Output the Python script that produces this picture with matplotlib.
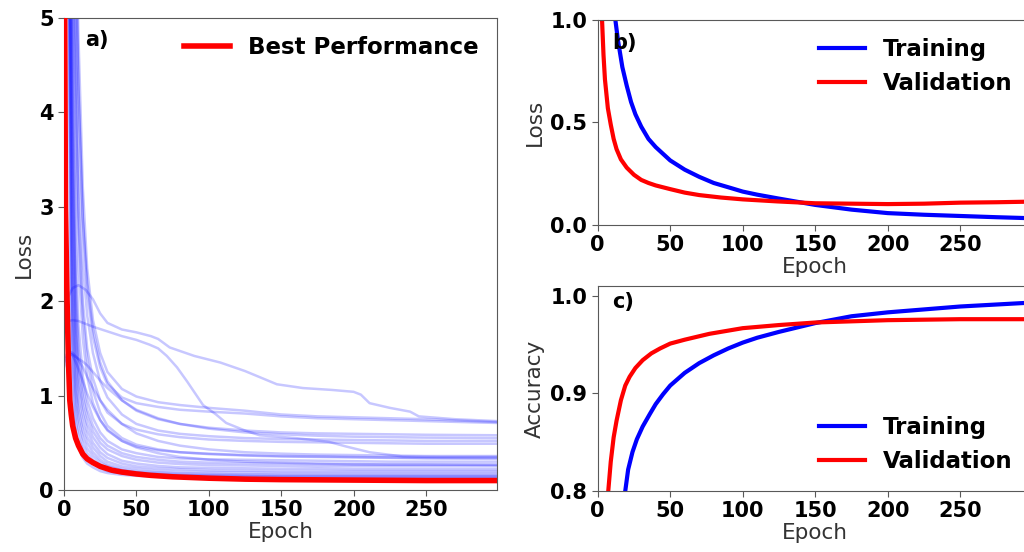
import matplotlib
matplotlib.use("Agg")
import matplotlib.pyplot as plt

# ---------------- data ----------------
# Panel a) : hyper-parameter search runs (loss), shared epoch grid
grid_epochs = [0, 2, 3, 4, 5, 6, 8, 10, 13, 16, 20, 25, 30, 40, 50, 65, 80, 100, 125, 150, 175, 200, 225, 250, 299]

run_b1 = [9, 7, 5.5, 3.0, 1.5, 0.95, 0.6, 0.45, 0.34, 0.28, 0.24, 0.2, 0.18, 0.16, 0.15, 0.14, 0.135, 0.13, 0.125, 0.12, 0.12, 0.12, 0.12, 0.12, 0.12]
run_b2 = [9, 7.5, 6, 4.0, 2.2, 1.3, 0.75, 0.55, 0.42, 0.34, 0.28, 0.23, 0.2, 0.175, 0.16, 0.15, 0.145, 0.14, 0.135, 0.13, 0.13, 0.13, 0.13, 0.13, 0.13]
run_b3 = [9.5, 7.5, 6.2, 4.5, 2.6, 1.6, 0.9, 0.65, 0.48, 0.39, 0.32, 0.26, 0.225, 0.19, 0.175, 0.16, 0.155, 0.15, 0.145, 0.14, 0.14, 0.14, 0.14, 0.14, 0.14]
run_b4 = [10, 8, 6.5, 5.0, 3.0, 1.9, 1.05, 0.75, 0.55, 0.44, 0.36, 0.29, 0.25, 0.21, 0.19, 0.175, 0.165, 0.16, 0.155, 0.15, 0.15, 0.15, 0.15, 0.15, 0.15]
run_b5 = [10, 8.5, 7, 5.5, 3.5, 2.2, 1.2, 0.85, 0.62, 0.5, 0.4, 0.32, 0.27, 0.225, 0.2, 0.185, 0.175, 0.17, 0.165, 0.16, 0.16, 0.16, 0.16, 0.16, 0.16]
run_b6 = [10, 8.5, 7.2, 5.8, 4.0, 2.6, 1.4, 0.95, 0.7, 0.56, 0.45, 0.36, 0.3, 0.25, 0.225, 0.205, 0.195, 0.19, 0.185, 0.18, 0.18, 0.18, 0.18, 0.18, 0.18]
run_b7 = [10, 8.5, 7.5, 6.2, 4.5, 3.0, 1.6, 1.1, 0.8, 0.63, 0.5, 0.4, 0.34, 0.28, 0.25, 0.23, 0.22, 0.21, 0.205, 0.2, 0.2, 0.2, 0.2, 0.2, 0.2]
run_b8 = [10, 9, 7.8, 6.5, 5.0, 3.4, 1.8, 1.2, 0.88, 0.7, 0.56, 0.45, 0.38, 0.31, 0.28, 0.255, 0.24, 0.235, 0.23, 0.225, 0.225, 0.22, 0.22, 0.22, 0.22]
run_b9 = [10, 9, 8, 7, 5.5, 3.8, 2.0, 1.35, 0.98, 0.78, 0.62, 0.5, 0.43, 0.36, 0.32, 0.29, 0.275, 0.265, 0.26, 0.255, 0.25, 0.25, 0.25, 0.25, 0.25]
run_b10 = [10, 9, 8, 7, 6.0, 4.2, 2.3, 1.5, 1.08, 0.85, 0.68, 0.55, 0.47, 0.39, 0.35, 0.32, 0.3, 0.29, 0.285, 0.28, 0.275, 0.27, 0.27, 0.27, 0.27]
run_b11 = [10, 9, 8, 7.2, 6.2, 4.8, 2.7, 1.75, 1.2, 0.95, 0.76, 0.61, 0.52, 0.43, 0.39, 0.35, 0.335, 0.325, 0.32, 0.315, 0.31, 0.305, 0.3, 0.3, 0.3]
run_n1 = [1.35, 1.42, 1.45, 1.46, 1.46, 1.45, 1.42, 1.38, 1.3, 1.2, 1.08, 0.95, 0.85, 0.7, 0.6, 0.52, 0.47, 0.43, 0.4, 0.385, 0.375, 0.37, 0.365, 0.36, 0.36]
run_n2 = [10, 9, 8.5, 7.5, 6.5, 5.5, 3.6, 2.4, 1.6, 1.2, 0.92, 0.74, 0.63, 0.52, 0.46, 0.42, 0.4, 0.385, 0.37, 0.36, 0.355, 0.35, 0.345, 0.34, 0.34]
run_n3 = [10, 9, 8.5, 7.8, 7, 6, 4.2, 2.8, 1.85, 1.38, 1.05, 0.82, 0.68, 0.55, 0.48, 0.43, 0.4, 0.38, 0.365, 0.355, 0.35, 0.345, 0.34, 0.335, 0.33]
run_n4 = [1.3, 1.4, 1.44, 1.45, 1.44, 1.42, 1.36, 1.28, 1.15, 1.02, 0.88, 0.74, 0.64, 0.52, 0.45, 0.39, 0.35, 0.32, 0.3, 0.29, 0.28, 0.275, 0.27, 0.27, 0.265]
run_m1 = [10, 9.5, 9, 8.5, 8, 7.2, 5.8, 4.2, 2.9, 2.2, 1.7, 1.35, 1.15, 0.95, 0.84, 0.75, 0.7, 0.66, 0.63, 0.61, 0.6, 0.595, 0.59, 0.585, 0.58]
run_m2 = [1.4, 1.44, 1.45, 1.45, 1.44, 1.43, 1.41, 1.39, 1.36, 1.32, 1.25, 1.16, 1.08, 0.95, 0.85, 0.76, 0.7, 0.65, 0.61, 0.59, 0.575, 0.565, 0.56, 0.555, 0.55]
run_m3 = [10, 9.5, 9, 8.5, 7.8, 6.8, 5.0, 3.5, 2.4, 1.85, 1.45, 1.15, 0.98, 0.8, 0.7, 0.63, 0.595, 0.57, 0.55, 0.54, 0.535, 0.53, 0.525, 0.52, 0.52]
run_m4 = [10, 9.5, 9, 8.5, 7.5, 6.5, 4.6, 3.0, 2.0, 1.5, 1.18, 0.95, 0.82, 0.7, 0.64, 0.59, 0.56, 0.535, 0.52, 0.51, 0.505, 0.5, 0.495, 0.49, 0.49]
run_ca = [10, 9.5, 9, 8.5, 8, 7.6, 6.4, 4.8, 3.2, 2.35, 1.8, 1.45, 1.25, 1.07, 0.99, 0.93, 0.9, 0.87, 0.84, 0.8, 0.78, 0.77, 0.76, 0.75, 0.72]
run_cb = [10, 9.5, 9, 8.5, 8, 7.3, 5.9, 4.3, 2.85, 2.1, 1.62, 1.3, 1.12, 0.98, 0.92, 0.88, 0.85, 0.83, 0.81, 0.78, 0.76, 0.75, 0.74, 0.73, 0.71]

grid_runs = [run_b1, run_b2, run_b3, run_b4, run_b5, run_b6, run_b7, run_b8, run_b9,
             run_b10, run_b11, run_n1, run_n2, run_n3, run_n4, run_m1, run_m2, run_m3,
             run_m4, run_ca, run_cb]

# two runs with a late plateau / late drop
run_p_epochs = [0, 3, 6, 10, 15, 20, 25, 30, 40, 50, 60, 65, 73, 90, 108, 125, 147, 165, 185, 200, 205, 211, 225, 239, 245, 270, 299]
run_p_loss = [1.9, 2.05, 2.14, 2.17, 2.12, 2.02, 1.87, 1.77, 1.7, 1.67, 1.63, 1.6, 1.51, 1.42, 1.35, 1.26, 1.12, 1.08, 1.06, 1.04, 1.01, 0.92, 0.87, 0.83, 0.78, 0.75, 0.73]
run_q_epochs = [0, 3, 6, 10, 20, 30, 40, 50, 59, 65, 71, 78, 85, 96, 105, 112, 125, 135, 160, 183, 195, 211, 234, 260, 299]
run_q_loss = [1.72, 1.79, 1.8, 1.79, 1.73, 1.68, 1.63, 1.59, 1.54, 1.5, 1.42, 1.3, 1.15, 0.9, 0.8, 0.71, 0.63, 0.58, 0.55, 0.51, 0.46, 0.4, 0.355, 0.35, 0.35]

best_epochs = [0, 1, 2, 3, 4, 5, 6, 8, 10, 13, 16, 20, 25, 33, 40, 50, 60, 75, 100, 125, 150, 200, 250, 299]
best_loss = [7.0, 3.0, 2.1, 1.4, 0.95, 0.8, 0.68, 0.55, 0.47, 0.38, 0.33, 0.29, 0.25, 0.21, 0.19, 0.17, 0.155, 0.14, 0.125, 0.115, 0.11, 0.105, 0.1, 0.1]

# Panel b) : loss of the best model
train_loss_epochs = [0, 5, 10, 12, 14, 17, 20, 23, 26, 30, 35, 40, 50, 60, 70, 80, 92, 100, 110, 124, 150, 175, 200, 225, 250, 275, 299]
train_loss = [2.6, 1.7, 1.15, 1.01, 0.9, 0.77, 0.68, 0.6, 0.54, 0.48, 0.42, 0.38, 0.315, 0.27, 0.235, 0.205, 0.18, 0.163, 0.148, 0.13, 0.098, 0.075, 0.058, 0.05, 0.044, 0.038, 0.033]
val_loss_epochs = [0, 1, 2, 3, 4, 5, 7, 9, 11, 13, 16, 20, 25, 30, 35, 40, 50, 60, 70, 85, 100, 124, 150, 175, 200, 225, 250, 275, 299]
val_loss = [2.2, 1.6, 1.25, 1.0, 0.83, 0.71, 0.57, 0.49, 0.42, 0.37, 0.32, 0.28, 0.245, 0.22, 0.205, 0.193, 0.175, 0.158, 0.146, 0.134, 0.125, 0.115, 0.106, 0.104, 0.102, 0.104, 0.109, 0.111, 0.114]

# Panel c) : accuracy of the best model
train_acc_epochs = [0, 10, 15, 19, 21, 24, 27, 31, 36, 40, 45, 50, 60, 70, 80, 90, 100, 110, 125, 150, 175, 200, 250, 299]
train_acc = [0.55, 0.7, 0.76, 0.8, 0.822, 0.84, 0.853, 0.866, 0.879, 0.889, 0.899, 0.908, 0.921, 0.931, 0.939, 0.946, 0.952, 0.957, 0.963, 0.972, 0.979, 0.983, 0.989, 0.993]
val_acc_epochs = [0, 5, 7, 9, 11, 13, 16, 19, 22, 26, 31, 37, 43, 50, 60, 77, 100, 125, 150, 200, 250, 299]
val_acc = [0.6, 0.76, 0.795, 0.83, 0.855, 0.872, 0.893, 0.908, 0.917, 0.926, 0.934, 0.941, 0.946, 0.951, 0.955, 0.961, 0.9668, 0.970, 0.9726, 0.975, 0.976, 0.976]

# ---------------- figure ----------------
plt.rcParams['font.family'] = ['DejaVu Sans']
TICK_FS = 15
LABEL_FS = 15.5
LEG_FS = 16.5
SPINE_C = '0.35'

fig = plt.figure(figsize=(10.24, 5.52), dpi=100)
W, H = 1024.0, 552.0


def px_axes(x0, y0, x1, y1):
    return fig.add_axes([x0 / W, 1 - y1 / H, (x1 - x0) / W, (y1 - y0) / H])


ax_a = px_axes(64, 18, 497, 490)
ax_b = px_axes(597.7, 20, 1031.3, 225)
ax_c = px_axes(597.7, 286, 1031.3, 491)

for ax in (ax_a, ax_b, ax_c):
    for s in ax.spines.values():
        s.set_color(SPINE_C)
    ax.tick_params(labelsize=TICK_FS, color=SPINE_C, length=4)
    ax.set_xlim(0, 299)
    ax.set_xticks([0, 50, 100, 150, 200, 250])
    ax.set_xlabel('Epoch', fontsize=LABEL_FS, color='0.2', labelpad=1)

leg_kw = dict(frameon=False, prop={'weight': 'bold', 'size': LEG_FS}, labelspacing=0.45, borderaxespad=0.4)

# a)
for run in grid_runs:
    ax_a.plot(grid_epochs, run, color='blue', alpha=0.22, lw=1.8)
ax_a.plot(run_p_epochs, run_p_loss, color='blue', alpha=0.22, lw=1.8)
ax_a.plot(run_q_epochs, run_q_loss, color='blue', alpha=0.22, lw=1.8)
ax_a.plot(best_epochs, best_loss, color='red', lw=4, label='Best Performance', zorder=5)
ax_a.set_ylim(0, 5)
ax_a.set_yticks([0, 1, 2, 3, 4, 5])
ax_a.set_ylabel('Loss', fontsize=LABEL_FS, color='0.2')
ax_a.text(0.048, 0.953, 'a)', transform=ax_a.transAxes, fontsize=TICK_FS, fontweight='bold', va='center', ha='left')
ax_a.legend(loc='upper right', **leg_kw)

# b)
ax_b.plot(train_loss_epochs, train_loss, color='blue', lw=3, label='Training')
ax_b.plot(val_loss_epochs, val_loss, color='red', lw=3, label='Validation')
ax_b.set_ylim(0, 1.0)
ax_b.set_yticks([0.0, 0.5, 1.0])
ax_b.set_ylabel('Loss', fontsize=LABEL_FS, color='0.2')
ax_b.text(0.033, 0.888, 'b)', transform=ax_b.transAxes, fontsize=TICK_FS, fontweight='bold', va='center', ha='left')
ax_b.legend(loc='upper right', **leg_kw)

# c)
ax_c.plot(train_acc_epochs, train_acc, color='blue', lw=3, label='Training')
ax_c.plot(val_acc_epochs, val_acc, color='red', lw=3, label='Validation')
ax_c.set_ylim(0.8, 1.01)
ax_c.set_yticks([0.8, 0.9, 1.0])
ax_c.set_ylabel('Accuracy', fontsize=LABEL_FS, color='0.2')
ax_c.text(0.033, 0.92, 'c)', transform=ax_c.transAxes, fontsize=TICK_FS, fontweight='bold', va='center', ha='left')
ax_c.legend(loc='lower right', **leg_kw)

for ax in (ax_a, ax_b, ax_c):
    for lab in ax.get_xticklabels() + ax.get_yticklabels():
        lab.set_fontweight('bold')

fig.savefig('out.png', dpi=100)
